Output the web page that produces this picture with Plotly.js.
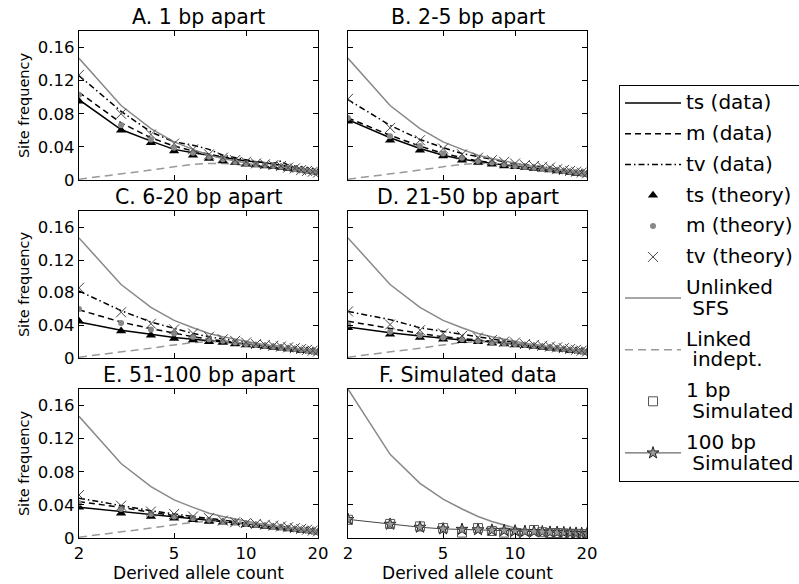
<!DOCTYPE html>
<html><head><meta charset="utf-8">
<script src="https://cdn.plot.ly/plotly-3.0.1.min.js"></script>
<style>html,body{margin:0;padding:0;background:#fff}#chart{width:799px;height:584px}</style>
</head><body><div id="chart"></div>
<script>
const derivedCount = [2,3,4,5,6,7,8,9,10,11,12,13,14,15,16,17,18,19,20];
const yTickVals = [0, 0.04, 0.08, 0.12, 0.16];
const yTickText = ['0', '0.04', '0.08', '0.12', '0.16'];
const xTickVals = [2, 5, 10, 20];
const xTickText = ['2', '5', '10', '20'];
const panelTitles = ['A. 1 bp apart', 'B. 2-5 bp apart', 'C. 6-20 bp apart', 'D. 21-50 bp apart', 'E. 51-100 bp apart', 'F. Simulated data'];

const unlinkedSFS = [0.147,0.090,0.062,0.046,0.037,0.030,0.026,0.023,0.020,0.018,0.016,0.0145,0.013,0.012,0.011,0.010,0.009,0.008,0.007];
const linkedIndept = [0.001,0.007,0.012,0.016,0.019,0.020,0.020,0.019,0.018,0.017,0.016,0.015,0.014,0.013,0.012,0.011,0.010,0.009,0.008];

const tsDataA = [0.097,0.061,0.047,0.037,0.033,0.030,0.027,0.025,0.023,0.022,0.021,0.019,0.018,0.016,0.014,0.012,0.011,0.009,0.007];
const tsTheoryA = [0.095,0.060,0.045,0.035,0.030,0.026,0.023,0.021,0.019,0.018,0.017,0.016,0.015,0.014,0.013,0.012,0.011,0.010,0.009];
const mDataA = [0.106,0.069,0.051,0.041,0.035,0.031,0.028,0.025,0.023,0.021,0.020,0.019,0.018,0.016,0.014,0.012,0.011,0.009,0.007];
const mTheoryA = [0.103,0.066,0.049,0.039,0.033,0.028,0.025,0.022,0.020,0.019,0.018,0.017,0.016,0.015,0.013,0.012,0.011,0.010,0.009];
const tvDataA = [0.126,0.083,0.058,0.046,0.042,0.037,0.030,0.027,0.024,0.022,0.021,0.020,0.023,0.018,0.015,0.013,0.011,0.009,0.008];
const tvTheoryA = [0.127,0.080,0.055,0.044,0.037,0.031,0.027,0.024,0.022,0.020,0.019,0.018,0.017,0.015,0.014,0.012,0.011,0.010,0.009];

const tsDataB = [0.073,0.051,0.038,0.030,0.025,0.022,0.020,0.018,0.017,0.016,0.015,0.014,0.013,0.012,0.011,0.010,0.009,0.008,0.007];
const tsTheoryB = [0.071,0.048,0.036,0.029,0.024,0.021,0.019,0.017,0.016,0.015,0.014,0.013,0.012,0.011,0.010,0.009,0.008,0.008,0.007];
const mDataB = [0.075,0.054,0.041,0.032,0.027,0.023,0.021,0.019,0.017,0.016,0.015,0.014,0.013,0.012,0.011,0.010,0.009,0.008,0.007];
const mTheoryB = [0.075,0.053,0.041,0.032,0.027,0.023,0.021,0.019,0.017,0.016,0.015,0.014,0.013,0.012,0.011,0.010,0.009,0.008,0.007];
const tvDataB = [0.097,0.066,0.049,0.039,0.032,0.028,0.025,0.022,0.020,0.018,0.017,0.016,0.014,0.013,0.012,0.011,0.010,0.009,0.008];
const tvTheoryB = [0.098,0.063,0.048,0.038,0.031,0.027,0.024,0.022,0.020,0.018,0.017,0.016,0.015,0.013,0.012,0.011,0.010,0.009,0.008];

const tsDataC = [0.044,0.034,0.029,0.025,0.023,0.021,0.020,0.018,0.017,0.016,0.015,0.014,0.013,0.012,0.011,0.010,0.009,0.008,0.007];
const tsTheoryC = [0.045,0.033,0.028,0.024,0.022,0.020,0.019,0.017,0.016,0.015,0.014,0.013,0.012,0.011,0.010,0.009,0.009,0.008,0.007];
const mDataC = [0.059,0.044,0.036,0.030,0.026,0.023,0.021,0.019,0.018,0.016,0.015,0.014,0.013,0.012,0.011,0.010,0.009,0.008,0.007];
const mTheoryC = [0.060,0.043,0.035,0.030,0.026,0.023,0.021,0.019,0.017,0.016,0.015,0.014,0.013,0.012,0.011,0.010,0.009,0.008,0.007];
const tvDataC = [0.082,0.058,0.044,0.036,0.030,0.026,0.023,0.021,0.019,0.017,0.016,0.015,0.014,0.013,0.012,0.011,0.010,0.009,0.008];
const tvTheoryC = [0.086,0.056,0.042,0.035,0.030,0.026,0.023,0.021,0.019,0.017,0.016,0.015,0.014,0.013,0.012,0.011,0.010,0.009,0.008];

const tsDataD = [0.038,0.031,0.027,0.024,0.022,0.021,0.019,0.018,0.017,0.016,0.015,0.014,0.013,0.012,0.011,0.010,0.009,0.008,0.007];
const tsTheoryD = [0.037,0.029,0.025,0.023,0.021,0.020,0.018,0.017,0.016,0.015,0.014,0.013,0.012,0.011,0.010,0.009,0.009,0.008,0.007];
const mDataD = [0.045,0.036,0.030,0.026,0.024,0.022,0.020,0.019,0.017,0.016,0.015,0.014,0.013,0.012,0.011,0.010,0.009,0.008,0.007];
const mTheoryD = [0.041,0.032,0.028,0.025,0.023,0.021,0.019,0.018,0.017,0.016,0.015,0.014,0.013,0.012,0.011,0.010,0.009,0.008,0.007];
const tvDataD = [0.057,0.047,0.037,0.033,0.029,0.026,0.023,0.021,0.019,0.017,0.016,0.015,0.014,0.013,0.012,0.011,0.010,0.009,0.008];
const tvTheoryD = [0.057,0.041,0.034,0.030,0.027,0.025,0.022,0.020,0.019,0.017,0.016,0.015,0.014,0.013,0.012,0.011,0.010,0.009,0.008];

const tsDataE = [0.037,0.032,0.028,0.025,0.023,0.021,0.019,0.018,0.017,0.016,0.015,0.014,0.013,0.012,0.011,0.010,0.009,0.008,0.007];
const tsTheoryE = [0.037,0.030,0.026,0.024,0.022,0.020,0.019,0.018,0.016,0.015,0.014,0.013,0.012,0.011,0.010,0.009,0.009,0.008,0.007];
const mDataE = [0.044,0.037,0.031,0.027,0.024,0.022,0.020,0.019,0.017,0.016,0.015,0.014,0.013,0.012,0.011,0.010,0.009,0.008,0.007];
const mTheoryE = [0.042,0.035,0.029,0.026,0.024,0.022,0.020,0.019,0.017,0.016,0.015,0.014,0.013,0.012,0.011,0.010,0.009,0.008,0.007];
const tvDataE = [0.048,0.039,0.033,0.029,0.026,0.023,0.021,0.019,0.018,0.017,0.016,0.015,0.014,0.013,0.012,0.011,0.010,0.009,0.008];
const tvTheoryE = [0.052,0.039,0.032,0.029,0.026,0.024,0.021,0.019,0.018,0.017,0.016,0.015,0.014,0.013,0.012,0.011,0.010,0.009,0.008];

const unlinkedSFS_F = [0.180,0.101,0.066,0.047,0.035,0.026,0.020,0.016,0.012,0.010,0.009,0.008,0.007,0.0062,0.0056,0.0051,0.0047,0.0043,0.004];
const sim1bp = [0.022,0.017,0.014,0.012,0.0065,0.012,0.0085,0.0065,0.005,0.0045,0.0097,0.007,0.006,0.006,0.0055,0.005,0.005,0.0045,0.0045];
const sim100bp = [0.0225,0.0166,0.013,0.011,0.0105,0.010,0.0095,0.009,0.0085,0.008,0.0078,0.0075,0.007,0.0068,0.0065,0.006,0.0058,0.0055,0.005];

function big(s) { return '<span style="font-size:20px">' + s + '</span>'; }

const STYLE = {
  tsData:   {name:big('ts (data)'), rank:1, p:{mode:'lines', line:{color:'#000', width:1.5}}},
  mData:    {name:big('m (data)'), rank:2, p:{mode:'lines', line:{color:'#000', width:1.5, dash:'6px,4px'}}},
  tvData:   {name:big('tv (data)'), rank:3, p:{mode:'lines', line:{color:'#000', width:1.5, dash:'6px,3px,1.5px,3px'}}},
  tsTheory: {name:big('ts (theory)'), rank:4, p:{mode:'markers', marker:{symbol:'triangle-up', color:'#000', size:9}}},
  mTheory:  {name:big('m (theory)'), rank:5, p:{mode:'markers', marker:{symbol:'circle', color:'#888', size:6}}},
  tvTheory: {name:big('tv (theory)'), rank:6, p:{mode:'markers', marker:{symbol:'x-thin-open', color:'#444', size:10, line:{width:1, color:'#444'}}}},
  unlinked: {name:big('Unlinked') + '<br>' + big('\u00a0SFS'), rank:7, p:{mode:'lines', line:{color:'#888', width:1.5}}},
  linked:   {name:big('Linked') + '<br>' + big('\u00a0indept.'), rank:8, p:{mode:'lines', line:{color:'#999', width:1.5, dash:'8px,5px'}}},
  sim1:     {name:big('1 bp') + '<br>' + big('\u00a0Simulated'), rank:9, p:{mode:'markers', marker:{symbol:'square-open', color:'#555', size:9, line:{width:1, color:'#555'}}}},
  sim100:   {name:big('100 bp') + '<br>' + big('\u00a0Simulated'), rank:10, p:{mode:'lines+markers', line:{color:'#444', width:1}, marker:{symbol:'star', color:'#999', size:9, line:{width:1, color:'#222'}}}}
};

const traces = [];
const shown = {};
function add(panel, key, y) {
  const s = STYLE[key];
  const suf = panel === 1 ? '' : String(panel);
  const t = Object.assign({x: derivedCount, y: y, xaxis: 'x' + suf, yaxis: 'y' + suf,
    name: s.name, legendgroup: key, legendrank: s.rank, showlegend: !shown[key], hoverinfo: 'skip'},
    JSON.parse(JSON.stringify(s.p)));
  shown[key] = true;
  traces.push(t);
}

const panels = [
  [tsDataA, mDataA, tvDataA, tsTheoryA, mTheoryA, tvTheoryA],
  [tsDataB, mDataB, tvDataB, tsTheoryB, mTheoryB, tvTheoryB],
  [tsDataC, mDataC, tvDataC, tsTheoryC, mTheoryC, tvTheoryC],
  [tsDataD, mDataD, tvDataD, tsTheoryD, mTheoryD, tvTheoryD],
  [tsDataE, mDataE, tvDataE, tsTheoryE, mTheoryE, tvTheoryE]
];
panels.forEach((d, i) => {
  const p = i + 1;
  add(p, 'tsData', d[0]);
  add(p, 'mData', d[1]);
  add(p, 'tvData', d[2]);
  add(p, 'unlinked', unlinkedSFS);
  add(p, 'linked', linkedIndept);
  add(p, 'tsTheory', d[3]);
  add(p, 'mTheory', d[4]);
  add(p, 'tvTheory', d[5]);
});
add(6, 'unlinked', unlinkedSFS_F);
add(6, 'sim100', sim100bp);
add(6, 'sim1', sim1bp);

const W = 799, H = 584;
const cols = [[79, 318], [348, 587]];
const rows = [[31, 180], [211, 358], [389, 538]];
const FONT = 'DejaVu Sans, sans-serif';

const layout = {
  width: W, height: H,
  margin: {l: 0, r: 0, t: 0, b: 0, autoexpand: false},
  paper_bgcolor: '#fff', plot_bgcolor: '#fff',
  font: {family: FONT, color: '#000', size: 15},
  showlegend: true,
  legend: {x: 619 / W, xanchor: 'left', y: 1 - 85 / H, yanchor: 'top',
    bordercolor: '#000', borderwidth: 1, bgcolor: '#fff',
    font: {family: FONT, size: 16, color: '#000'}, itemwidth: 56, tracegroupgap: 7},
  annotations: []
};

for (let p = 1; p <= 6; p++) {
  const c = (p - 1) % 2, r = Math.floor((p - 1) / 2);
  const suf = p === 1 ? '' : String(p);
  const xd = [cols[c][0] / W, cols[c][1] / W];
  const yd = [1 - rows[r][1] / H, 1 - rows[r][0] / H];
  layout['xaxis' + suf] = {
    domain: xd, anchor: 'y' + suf, type: 'log', range: [Math.log10(2), Math.log10(20)],
    tickvals: xTickVals, ticktext: xTickText, showticklabels: r === 2,
    ticks: 'inside', ticklen: 5, tickwidth: 1, tickcolor: '#000',
    showline: true, linecolor: '#000', linewidth: 1.2, mirror: 'allticks',
    showgrid: false, zeroline: false, tickfont: {size: 16.5},
    title: r === 2 ? {text: 'Derived allele count', font: {size: 17}, standoff: 3} : {text: ''}
  };
  layout['yaxis' + suf] = {
    domain: yd, anchor: 'x' + suf, range: [0, 0.18],
    tickvals: yTickVals, ticktext: yTickText, showticklabels: c === 0,
    ticks: 'inside', ticklen: 5, tickwidth: 1, tickcolor: '#000',
    showline: true, linecolor: '#000', linewidth: 1.2, mirror: 'allticks',
    showgrid: false, zeroline: false, tickfont: {size: 16.5},
    title: c === 0 ? {text: 'Site frequency', font: {size: 14.5}, standoff: 4} : {text: ''}
  };
  layout.annotations.push({
    text: panelTitles[p - 1], xref: 'paper', yref: 'paper',
    x: (xd[0] + xd[1]) / 2, y: yd[1], xanchor: 'center', yanchor: 'bottom', yshift: 0,
    showarrow: false, font: {size: 20.5, family: FONT, color: '#000'}
  });
}

Plotly.newPlot('chart', traces, layout, {displayModeBar: false, staticPlot: true});
</script>
</body></html>
